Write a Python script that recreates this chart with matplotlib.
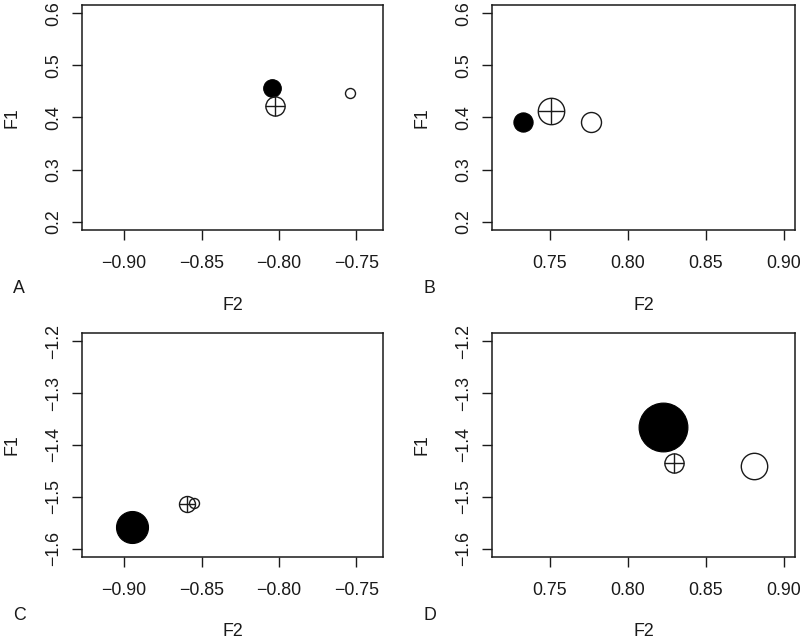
import matplotlib
matplotlib.use('Agg')
import matplotlib.pyplot as plt

plt.rcParams['font.family'] = ['Liberation Sans', 'DejaVu Sans']
plt.rcParams['font.size'] = 12.8

# point order in every panel: filled, crossed, open
panels = ['A', 'B', 'C', 'D']
f2_vals = {
    'A': [-0.8045, -0.8028, -0.7543],
    'B': [0.7328, 0.7505, 0.7763],
    'C': [-0.8949, -0.8595, -0.8546],
    'D': [0.8222, 0.8293, 0.8809],
}
f1_vals = {
    'A': [0.4560, 0.4224, 0.4479],
    'B': [0.3904, 0.4128, 0.3912],
    'C': [-1.5582, -1.5134, -1.5121],
    'D': [-1.3651, -1.4342, -1.4400],
}
cex_vals = {
    'A': [2.2, 2.4, 1.25],
    'B': [2.4, 3.3, 2.5],
    'C': [4.0, 2.0, 1.25],
    'D': [6.1, 2.4, 3.3],
}
xlims = {'A': (-0.92, -0.74), 'B': (0.72, 0.90), 'C': (-0.92, -0.74), 'D': (0.72, 0.90)}
ylims = {'A': (0.2, 0.6), 'B': (0.2, 0.6), 'C': (-1.6, -1.2), 'D': (-1.6, -1.2)}
xticks = {'A': [-0.90, -0.85, -0.80, -0.75], 'B': [0.75, 0.80, 0.85, 0.90],
          'C': [-0.90, -0.85, -0.80, -0.75], 'D': [0.75, 0.80, 0.85, 0.90]}
yticks = {'A': [0.2, 0.3, 0.4, 0.5, 0.6], 'B': [0.2, 0.3, 0.4, 0.5, 0.6],
          'C': [-1.6, -1.5, -1.4, -1.3, -1.2], 'D': [-1.6, -1.5, -1.4, -1.3, -1.2]}

W, H = 800, 639
fig = plt.figure(figsize=(W / 100, H / 100), dpi=100)

# axes boxes in pixels: left, top, right, bottom
boxes = {'A': (82, 5, 383, 230), 'B': (492, 5, 795, 230),
         'C': (82, 333, 383, 557), 'D': (492, 333, 795, 557)}
ink = '#1a1a1a'


def ms(cex):
    # radius ~ 4 px per cex unit, markersize is diameter in points
    return 2 * cex * 4 * 0.72


for p in panels:
    l, t, r, b = boxes[p]
    ax = fig.add_axes([l / W, 1 - b / H, (r - l) / W, (b - t) / H])
    x0, x1 = xlims[p]
    y0, y1 = ylims[p]
    dx = (x1 - x0) * 0.04
    dy = (y1 - y0) * 0.04
    ax.set_xlim(x0 - dx, x1 + dx)
    ax.set_ylim(y0 - dy, y1 + dy)

    xs, ys, cs = f2_vals[p], f1_vals[p], cex_vals[p]
    # filled
    ax.plot(xs[0], ys[0], 'o', ms=ms(cs[0]), mfc='black', mec='black', mew=0.8)
    # crossed circle
    ax.plot(xs[1], ys[1], 'o', ms=ms(cs[1]), mfc='none', mec=ink, mew=1.0)
    ax.plot(xs[1], ys[1], '+', ms=ms(cs[1]), mec=ink, mew=1.0)
    # open
    ax.plot(xs[2], ys[2], 'o', ms=ms(cs[2]), mfc='none', mec=ink, mew=1.0)

    ax.set_xticks(xticks[p])
    ax.set_xticklabels([('%.2f' % v).replace('-', '\u2212') for v in xticks[p]])
    ax.set_yticks(yticks[p])
    ax.set_yticklabels([('%.1f' % v).replace('-', '\u2212') for v in yticks[p]],
                       rotation=90, va='center')
    ax.tick_params(direction='out', length=7, width=1, color=ink, labelcolor=ink)
    ax.tick_params(axis='x', pad=11)
    ax.tick_params(axis='y', pad=7)
    for s in ax.spines.values():
        s.set_color(ink)
        s.set_linewidth(1.1)

    # axis titles and panel letter
    cx = (l + r) / 2
    cy = (t + b) / 2
    fig.text(cx / W, 1 - (b + 75) / H, 'F2', ha='center', va='center', color=ink)
    fig.text((l - 70) / W, 1 - cy / H, 'F1', ha='center', va='center', rotation=90, color=ink)
    fig.text((l - 69) / W, 1 - (b + 58) / H, p, ha='left', va='center', color=ink)

fig.savefig('out.png', dpi=100)
